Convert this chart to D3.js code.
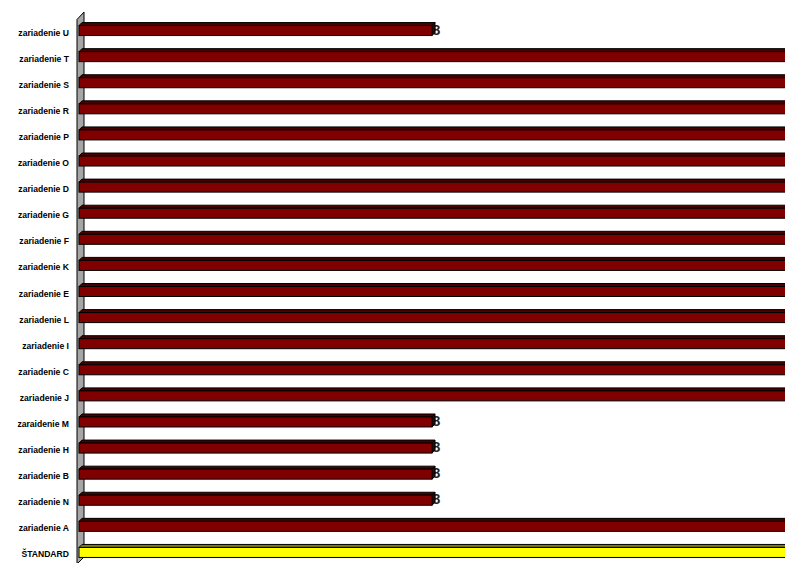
<!DOCTYPE html>
<html>
<head>
<meta charset="utf-8">
<script src="https://cdn.jsdelivr.net/npm/d3@7"></script>
<style>
  html, body { margin: 0; padding: 0; background: #fff; }
  svg { display: block; }
</style>
</head>
<body>
<svg id="chart" width="785" height="563"></svg>
<script>
// Facilities, listed top to bottom
const categories = [
  "zariadenie U", "zariadenie T", "zariadenie S", "zariadenie R", "zariadenie P",
  "zariadenie O", "zariadenie D", "zariadenie G", "zariadenie F", "zariadenie K",
  "zariadenie E", "zariadenie L", "zariadenie I", "zariadenie C", "zariadenie J",
  "zaraidenie M", "zariadenie H", "zariadenie B", "zariadenie N", "zariadenie A",
  "ŠTANDARD"
];
// Bar values (long bars run past the visible axis range)
const values = [8, 20, 20, 20, 20, 20, 20, 20, 20, 20, 20, 20, 20, 20, 20, 8, 8, 8, 8, 20, 20];
// Value labels shown at the end of the bars that stay inside the plot
const shownLabels = ["8", "", "", "", "", "", "", "", "", "", "", "", "", "", "", "8", "8", "8", "8", "", ""];
const xDomain = [0, 16];

const W = 785, H = 563;
const svg = d3.select("#chart");

const x = d3.scaleLinear().domain(xDomain).range([79, 785]);
const y = d3.scaleBand().domain(categories).range([19.5, 567.5]);

const depth = 3;      // 3-D offset of each bar
const frontH = 10;    // height of the front face

// Clip bars to the visible area
svg.append("defs").append("clipPath").attr("id", "plotClip")
  .append("rect").attr("x", 0).attr("y", 0).attr("width", W).attr("height", H);

// Side wall of the 3-D plot
const wx0 = 77, wx1 = 84;
svg.append("path")
  .attr("d", `M${wx0},${y.range()[0]} L${wx1},${y.range()[0] - 7.5} L${wx1},${H - 6} L${wx0},${H + 1} Z`)
  .attr("fill", "#a6a6a6")
  .attr("stroke", "#000")
  .attr("stroke-width", 1);

// Category labels
svg.append("g").selectAll("text")
  .data(categories)
  .join("text")
  .attr("x", 69)
  .attr("y", d => y(d) + y.bandwidth() / 2)
  .attr("dy", "0.35em")
  .attr("text-anchor", "end")
  .attr("font-family", "Liberation Sans, Arial, sans-serif")
  .attr("font-weight", "bold")
  .attr("font-size", "8.6px")
  .attr("fill", "#000")
  .text(d => d);

const rows = categories.map((c, i) => ({
  cat: c, value: values[i], label: shownLabels[i], standard: c === "ŠTANDARD"
}));

// Value labels, drawn beneath the bar ends
svg.append("g").selectAll("text")
  .data(rows.filter(d => d.label))
  .join("text")
  .attr("x", d => x(d.value) + 0.5)
  .attr("y", d => y(d.cat) + y.bandwidth() / 2 - 3)
  .attr("dy", "0.36em")
  .attr("font-family", "Liberation Sans, Arial, sans-serif")
  .attr("font-weight", "bold")
  .attr("font-size", "14px")
  .attr("fill", "#222")
  .text(d => d.label);

const bars = svg.append("g").attr("clip-path", "url(#plotClip)")
  .selectAll("g")
  .data(rows)
  .join("g");

const frontTop = d => y(d.cat) + y.bandwidth() / 2 - 7;
const x0 = x(0);

// Top face
bars.append("path")
  .attr("d", d => {
    const t = frontTop(d), r = x(d.value);
    return `M${x0},${t} L${x0 + depth},${t - depth} L${r + depth},${t - depth} L${r},${t} Z`;
  })
  .attr("fill", d => d.standard ? "#808000" : "#4a0000")
  .attr("stroke", "#000")
  .attr("stroke-width", 1);

// End face
bars.append("path")
  .attr("d", d => {
    const t = frontTop(d), r = x(d.value);
    return `M${r},${t} L${r + depth},${t - depth} L${r + depth},${t - depth + frontH} L${r},${t + frontH} Z`;
  })
  .attr("fill", d => d.standard ? "#808000" : "#400000")
  .attr("stroke", "#000")
  .attr("stroke-width", 1);

// Front face
bars.append("rect")
  .attr("x", x0)
  .attr("y", d => frontTop(d))
  .attr("width", d => x(d.value) - x0)
  .attr("height", frontH)
  .attr("fill", d => d.standard ? "#ffff00" : "#800000")
  .attr("stroke", "#000")
  .attr("stroke-width", 1);
</script>
</body>
</html>
